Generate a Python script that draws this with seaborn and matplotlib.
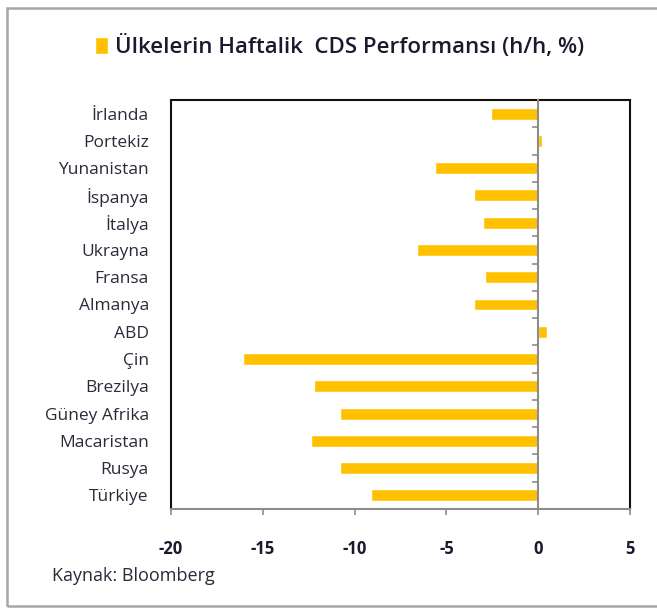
import matplotlib
matplotlib.use("Agg")
import matplotlib.pyplot as plt
import seaborn as sns
import pandas as pd
from matplotlib.patches import Rectangle

countries = ["İrlanda", "Portekiz", "Yunanistan", "İspanya", "İtalya", "Ukrayna",
             "Fransa", "Almanya", "ABD", "Çin", "Brezilya", "Güney Afrika",
             "Macaristan", "Rusya", "Türkiye"]
values = [-2.55, 0.18, -5.6, -3.5, -3.0, -6.6, -2.9, -3.5, 0.5, -16.1, -12.2,
          -10.8, -12.4, -10.8, -9.1]
xticks = [-20, -15, -10, -5, 0, 5]
title = "Ülkelerin Haftalik  CDS Performansı (h/h, %)"
source = "Kaynak: Bloomberg"

FAM = ["Open Sans", "DejaVu Sans"]
sns.set_style("white")
plt.rcParams["font.family"] = FAM

W, H = 657, 608
fig = plt.figure(figsize=(W / 100, H / 100), dpi=100)
ax = fig.add_axes([171 / W, 1 - 509 / H, (630 - 171) / W, (509 - 100) / H])

df = pd.DataFrame({"country": countries, "value": values})
sns.barplot(data=df, x="value", y="country", orient="h", color="#FFC000",
            width=0.44, saturation=1, ax=ax, label=title)
if ax.get_legend() is not None:
    ax.get_legend().remove()

ax.set_xlim(-20, 5)
ax.set_ylim(len(countries) - 0.5, -0.5)
ax.set_xticks(xticks)
ax.set_xticklabels([str(t) for t in xticks], fontsize=12, fontweight="bold",
                   color="#1a1a2e")
ax.tick_params(axis="x", direction="out", length=4, width=1.2, color="#8c8c8c",
               pad=18, bottom=True)
ax.tick_params(axis="y", length=0, pad=16, labelsize=12.5, labelcolor="#2a2a3a")
ax.set_xlabel("")
ax.set_ylabel("")
for s in ["left", "top", "right"]:
    ax.spines[s].set_color("#111111")
    ax.spines[s].set_linewidth(1.5)
ax.spines["bottom"].set_color("#8c8c8c")
ax.spines["bottom"].set_linewidth(1.5)

# zero axis with category boundary ticks
ax2 = ax.twinx()
ax2.set_ylim(ax.get_ylim())
ax2.yaxis.tick_left()
for s in ["top", "right", "bottom"]:
    ax2.spines[s].set_visible(False)
ax2.spines["left"].set_position(("data", 0))
ax2.spines["left"].set_color("#8c8c8c")
ax2.spines["left"].set_linewidth(1.5)
ax2.set_yticks([i + 0.5 for i in range(len(countries) - 1)])
ax2.set_yticklabels([])
ax2.tick_params(axis="y", direction="out", length=4, width=1.2, color="#8c8c8c",
                left=True, right=False)
ax2.grid(False)

handles, labels = ax.get_legend_handles_labels()
leg = fig.legend(handles, labels, loc="center", bbox_to_anchor=(340 / W, 1 - 47 / H),
                 frameon=False, handlelength=0.55, handleheight=0.8, handletextpad=0.35,
                 prop={"family": FAM, "weight": "semibold", "size": 16})
for t in leg.get_texts():
    t.set_color("#1a1a2e")

fig.text(52 / W, 1 - 576 / H, source, fontsize=13, color="#2a2a3a",
         ha="left", va="center")

fig.patches.append(Rectangle((7 / W, 2 / H), 1.2, 1 - 10 / H, transform=fig.transFigure,
                             fill=False, edgecolor="#a6a6a6", linewidth=1.8))

fig.savefig("out.png", dpi=100)
